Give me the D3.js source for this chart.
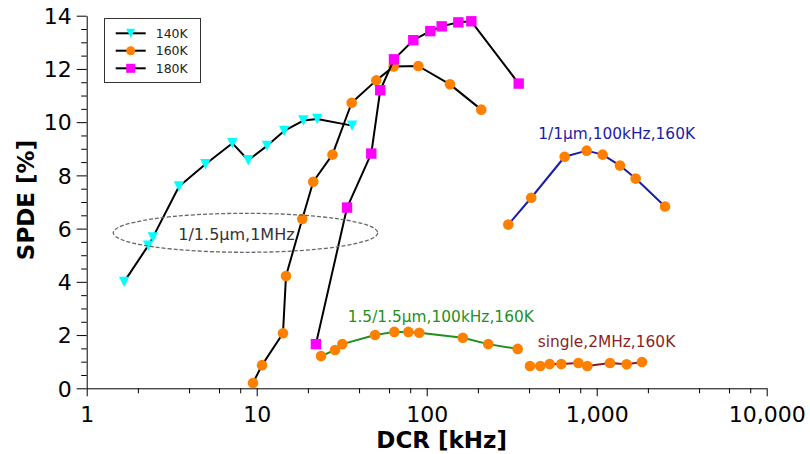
<!DOCTYPE html>
<html>
<head>
<meta charset="utf-8">
<script src="https://cdn.jsdelivr.net/npm/d3@7"></script>
<style>
  html, body { margin: 0; padding: 0; background: #fff; }
  svg { display: block; font-family: "DejaVu Sans", sans-serif; }
</style>
</head>
<body>
<svg id="chart" width="810" height="454"></svg>
<script>
// ---- Data ----
const dcr140 = [1.66, 2.30, 2.45, 3.49, 4.99, 7.19, 8.92, 11.5, 14.5, 18.8, 22.7, 36.4];
const spde140 = [4.0, 5.36, 5.67, 7.58, 8.42, 9.21, 8.57, 9.11, 9.67, 10.06, 10.12, 9.87];

const dcr160 = [9.51, 10.75, 14.28, 14.87, 18.54, 21.5, 27.9, 36.2, 50.5, 63.9, 89.3, 137, 209.5];
const spde160 = [0.20, 0.87, 2.07, 4.22, 6.36, 7.76, 8.78, 10.73, 11.57, 12.09, 12.11, 11.42, 10.47];

const dcr180 = [22.3, 34.0, 47.2, 53.3, 64.2, 83.4, 105, 122.5, 153.5, 183, 347.6];
const spde180 = [1.66, 6.79, 8.82, 11.20, 12.36, 13.08, 13.42, 13.60, 13.75, 13.79, 11.45];

const dcrSmall = [302, 412, 648, 873, 1084, 1371, 1695, 2523];
const spdeSmall = [6.15, 7.16, 8.70, 8.93, 8.78, 8.37, 7.88, 6.83];

const dcrLarge = [23.9, 28.9, 31.9, 49.7, 64.5, 78, 90.4, 163, 230, 343];
const spdeLarge = [1.21, 1.44, 1.66, 2.00, 2.12, 2.12, 2.09, 1.90, 1.66, 1.48];

const dcrSingle = [405, 466, 529, 619, 780, 880, 1197, 1500, 1847];
const spdeSingle = [0.84, 0.84, 0.91, 0.91, 0.95, 0.84, 0.95, 0.90, 0.99];

const xTicks = [1, 10, 100, 1000, 10000];
const yTicks = [0, 2, 4, 6, 8, 10, 12, 14];
const legendLabels = ["140K", "160K", "180K"];
const labelSmall = "1/1µm,100kHz,160K";
const labelLarge = "1.5/1.5µm,100kHz,160K";
const labelSingle = "single,2MHz,160K";
const labelEllipse = "1/1.5µm,1MHz";
const xTitle = "DCR [kHz]";
const yTitle = "SPDE [%]";

// ---- Setup ----
const svg = d3.select("#chart");
const x = d3.scaleLog().domain([1, 10000]).range([86.7, 766.7]);
const y = d3.scaleLinear().domain([0, 14]).range([388.3, 15.7]);

const ORANGE = "#ff8000", CYAN = "#00ffff", MAGENTA = "#ff00ff";
const BLUE = "#1c1ca6", GREEN = "#1f8f1f", DRED = "#8b1f1f";

// ---- Axes ----
const minorX = [];
[1, 10, 100, 1000].forEach(d => [2, 4, 6, 8].forEach(m => minorX.push(d * m)));
const minorY = d3.range(0, 14.01, 0.5).filter(v => Math.abs(v % 2) > 1e-9);

const xAxisG = svg.append("g").attr("transform", `translate(0,${y(0)})`);
xAxisG.append("g")
  .call(d3.axisBottom(x).tickValues(minorX).tickSize(5).tickFormat(""))
  .call(g => g.select(".domain").remove());
xAxisG.append("g")
  .call(d3.axisBottom(x).tickValues(xTicks).tickSize(8).tickSizeOuter(0).tickFormat(d3.format(",")))
  .call(g => g.selectAll("text").attr("y", 34).attr("dy", 0)
        .attr("font-size", 22).attr("font-family", "DejaVu Sans").attr("fill", "#000"));

const yAxisG = svg.append("g").attr("transform", `translate(${x(1)},0)`);
yAxisG.append("g")
  .call(d3.axisLeft(y).tickValues(minorY).tickSize(5.5).tickFormat(""))
  .call(g => g.select(".domain").remove());
yAxisG.append("g")
  .call(d3.axisLeft(y).tickValues(yTicks).tickSize(10).tickSizeOuter(0).tickPadding(5))
  .call(g => g.selectAll("text").attr("font-size", 22).attr("dy", "0.35em")
        .attr("font-family", "DejaVu Sans").attr("fill", "#000"));

svg.selectAll(".domain, .tick line").attr("stroke", "#000").attr("stroke-width", 1);

// Axis titles
svg.append("text").attr("x", 441.7).attr("y", 448.3)
  .attr("text-anchor", "middle").attr("font-size", 23).attr("font-weight", "bold")
  .text(xTitle);
svg.append("text")
  .attr("transform", `translate(33.5,200) rotate(-90)`)
  .attr("text-anchor", "middle").attr("font-size", 23).attr("font-weight", "bold")
  .text(yTitle);

// ---- Markers ----
function drawMarker(g, kind, cx, cy, color, s) {
  if (kind === "circle") {
    g.append("circle").attr("cx", cx).attr("cy", cy).attr("r", s)
      .attr("fill", color);
  } else if (kind === "square") {
    g.append("rect").attr("x", cx - s).attr("y", cy - s)
      .attr("width", 2 * s).attr("height", 2 * s).attr("fill", color);
  } else if (kind === "tri") {
    g.append("path")
      .attr("d", `M${cx - s},${cy - s}L${cx + s},${cy - s}L${cx},${cy + s}Z`)
      .attr("fill", color);
  }
}

const line = d3.line().x(d => x(d[0])).y(d => y(d[1]));

function series(xs, ys, lineColor, kind, markerColor, size) {
  const pts = xs.map((v, i) => [v, ys[i]]);
  const g = svg.append("g");
  g.append("path").datum(pts).attr("d", line)
    .attr("fill", "none").attr("stroke", lineColor).attr("stroke-width", 2)
    .attr("stroke-linejoin", "round");
  pts.forEach(p => drawMarker(g, kind, x(p[0]), y(p[1]), markerColor, size));
}

series(dcr140, spde140, "#000", "tri", CYAN, 5.2);
series(dcr160, spde160, "#000", "circle", ORANGE, 5.3);
series(dcr180, spde180, "#000", "square", MAGENTA, 5.2);
series(dcrSmall, spdeSmall, BLUE, "circle", ORANGE, 5.3);
series(dcrLarge, spdeLarge, GREEN, "circle", ORANGE, 5.3);
series(dcrSingle, spdeSingle, DRED, "circle", ORANGE, 5.3);

// ---- Annotations ----
svg.append("text").attr("x", 538.3).attr("y", 139).attr("font-size", 15.4)
  .attr("fill", BLUE).text(labelSmall);
svg.append("text").attr("x", 347.7).attr("y", 321.7).attr("font-size", 15.4)
  .attr("fill", GREEN).text(labelLarge);
svg.append("text").attr("x", 537.7).attr("y", 347.3).attr("font-size", 15.4)
  .attr("fill", DRED).text(labelSingle);

svg.append("ellipse").attr("cx", 245.5).attr("cy", 232.8).attr("rx", 132.2).attr("ry", 19.5)
  .attr("fill", "none").attr("stroke", "#666").attr("stroke-width", 1.3)
  .attr("stroke-dasharray", "4,2");
svg.append("text").attr("x", 178.3).attr("y", 240).attr("font-size", 16)
  .attr("fill", "#333").text(labelEllipse);

// ---- Legend ----
const leg = svg.append("g");
leg.append("rect").attr("x", 104.5).attr("y", 18.5).attr("width", 96).attr("height", 64)
  .attr("fill", "#fff").attr("stroke", "#333").attr("stroke-width", 1);
const legKinds = [["tri", CYAN], ["circle", ORANGE], ["square", MAGENTA]];
const legY = [33.3, 50.7, 68.3];
legendLabels.forEach((lab, i) => {
  leg.append("line").attr("x1", 115.7).attr("x2", 145.7).attr("y1", legY[i]).attr("y2", legY[i])
    .attr("stroke", "#000").attr("stroke-width", 2);
  drawMarker(leg, legKinds[i][0], 130.7, legY[i], legKinds[i][1], 4.5);
  leg.append("text").attr("x", 155.7).attr("y", legY[i]).attr("dy", "0.36em")
    .attr("font-size", 12.5).attr("fill", "#222").text(lab);
});
</script>
</body>
</html>
